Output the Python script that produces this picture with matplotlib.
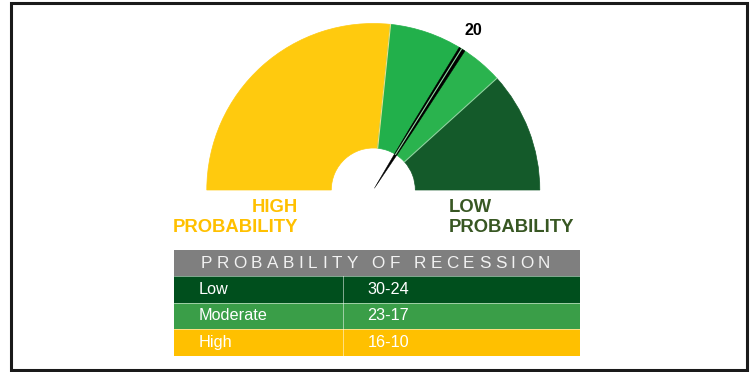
"""Recession probability gauge with a small legend table underneath."""
import math

import matplotlib
matplotlib.use("Agg")
import matplotlib.pyplot as plt
from matplotlib.patches import Wedge, Rectangle, Polygon
from matplotlib.font_manager import FontProperties
from matplotlib.textpath import TextToPath

plt.rcParams["font.family"] = ["Liberation Sans", "DejaVu Sans"]

# gauge zones, left to right (share of the half circle)
zone_names = ["High", "Moderate", "Moderate", "Low"]
zone_share = [0.533, 0.145, 0.088, 0.234]
zone_colors = ["#FFCA0E", "#22B04B", "#2AB34E", "#145A2A"]
reading = "20"
reading_pos = 0.679  # fraction of the half circle, from the left

# table
table_title = "PROBABILITY OF RECESSION"
row_labels = ["Low", "Moderate", "High"]
row_ranges = ["30-24", "23-17", "16-10"]
row_colors = ["#004F1D", "#3A9E48", "#FFC000"]

W, H = 753, 372
fig = plt.figure(figsize=(W / 100, H / 100), dpi=100)
ax = fig.add_axes([0, 0, 1, 1])
ax.set_xlim(0, W)
ax.set_ylim(H, 0)
ax.axis("off")

# frame
ax.add_patch(Rectangle((11, 3), 736, 367, fill=False, edgecolor="#1a1a1a", lw=2.2))

# ---- gauge ----
cx, cy = 373.3, 190.0
r_out, r_in = 166.5, 42.0


def ang(frac):
    # y axis is flipped, so angles are measured clockwise in data space
    return -(180.0 - 180.0 * frac)


start = 0.0
for share, col in zip(zone_share, zone_colors):
    a0, a1 = ang(start), ang(start + share)
    ax.add_patch(Wedge((cx, cy), r_out, min(a0, a1), max(a0, a1), width=r_out - r_in,
                       facecolor=col, edgecolor=col, lw=0.5))
    start += share
# pale seams between zones
start = 0.0
for share in zone_share[:-1]:
    start += share
    t = math.radians(180.0 - 180.0 * start)
    ax.plot([cx + r_in * math.cos(t), cx + r_out * math.cos(t)],
            [cy - r_in * math.sin(t), cy - r_out * math.sin(t)],
            color="#8fd9a0" if start > 0.6 else "#e8e08a", lw=0.8)

# needle: thick through the ring, thin spike inside the hole
t = math.radians(180.0 - 180.0 * reading_pos)
ux, uy = math.cos(t), -math.sin(t)
nx, ny = -uy, ux


def pt(r, off):
    return (cx + r * ux + off * nx, cy + r * uy + off * ny)


needle = [pt(2, 0), pt(r_in, 1.3), pt(r_in + 30, 2.1), pt(r_out, 3.4),
          pt(r_out, -3.4), pt(r_in + 30, -2.1), pt(r_in, -1.3)]
ax.add_patch(Polygon(needle, closed=True, facecolor="black", edgecolor="black", lw=0.3))
ax.text(473, 30.5, reading, ha="center", va="center", fontsize=11.5, fontweight="bold", color="black")

# zone captions
ax.text(298, 207, "HIGH", ha="right", va="center", fontsize=13.3, fontweight="bold", color="#FFC000")
ax.text(298, 227, "PROBABILITY", ha="right", va="center", fontsize=13.3, fontweight="bold", color="#FFC000")
ax.text(449, 207, "LOW", ha="left", va="center", fontsize=13.3, fontweight="bold", color="#385723")
ax.text(449, 227, "PROBABILITY", ha="left", va="center", fontsize=13.3, fontweight="bold", color="#385723")

# ---- table ----
tx0, tx1, tcol = 174.5, 580.0, 343.5
head_top, head_h, row_h = 249.5, 26.5, 26.6
ax.add_patch(Rectangle((tx0, head_top), tx1 - tx0, head_h, facecolor="#7F7F7F", edgecolor="none"))

# letter-spaced title
fp = FontProperties(family="Liberation Sans", size=12.3)
ttp = TextToPath()
widths = [ttp.get_text_width_height_descent(ch, fp, ismath=False)[0] * 100 / 72 for ch in table_title]
x_start, x_end = 200.5, 550.0
track = (x_end - x_start - sum(widths[:-1]) - widths[-1]) / (len(table_title) - 1)
x = x_start
for ch, w in zip(table_title, widths):
    ax.text(x, head_top + head_h / 2 + 0.5, ch, ha="left", va="center", fontproperties=fp, color="#F2F2F2")
    x += w + track

for i, (lab, rng, col) in enumerate(zip(row_labels, row_ranges, row_colors)):
    y0 = head_top + head_h + i * row_h
    ax.add_patch(Rectangle((tx0, y0), tx1 - tx0, row_h, facecolor=col, edgecolor="none"))
    ax.text(198.5, y0 + row_h / 2, lab, ha="left", va="center", fontsize=11.7, color="white")
    ax.text(367.5, y0 + row_h / 2, rng, ha="left", va="center", fontsize=11.7, color="white")
    ax.plot([tx0, tx1], [y0, y0], color="white", lw=0.6, alpha=0.6)
ax.plot([tcol, tcol], [head_top + head_h, head_top + head_h + 3 * row_h], color="white", lw=0.6, alpha=0.6)

fig.savefig("out.png", dpi=100)
